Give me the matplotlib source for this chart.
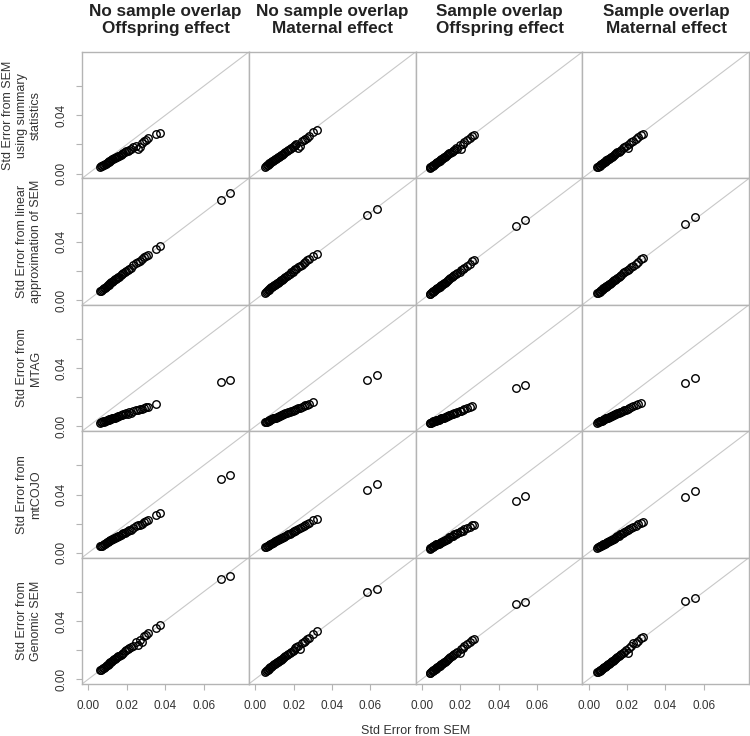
import numpy as np
import matplotlib
matplotlib.use('Agg')
import matplotlib.pyplot as plt

plt.rcParams['font.family'] = ['Liberation Sans', 'DejaVu Sans']

nan = np.nan

# 열 제목 / 행 라벨
col_titles = ['No sample overlap\nOffspring effect', 'No sample overlap\nMaternal effect',
              'Sample overlap\nOffspring effect', 'Sample overlap\nMaternal effect']
row_labels = ['Std Error from SEM\nusing summary\nstatistics',
              'Std Error from linear\napproximation of SEM',
              'Std Error from\nMTAG',
              'Std Error from\nmtCOJO',
              'Std Error from\nGenomic SEM']
tick_vals = [0.00, 0.02, 0.04, 0.06]
x_tick_labels = ['0.00', '0.02', '0.04', '0.06']
y_tick_labels = ['0.00', '', '0.04', '']

# x: Std Error from SEM (열마다)
x_col1 = [0.0060, 0.0065, 0.0070, 0.0075, 0.0080, 0.0085, 0.0090, 0.0095, 0.0100, 0.0105,
          0.0110, 0.0115, 0.0120, 0.0125, 0.0130, 0.0135, 0.0140, 0.0145, 0.0150, 0.0155,
          0.0160, 0.0168, 0.0175, 0.0183, 0.0190, 0.0198, 0.0205, 0.0213, 0.0220,
          0.0235, 0.0250, 0.0260, 0.0268, 0.0277, 0.0290, 0.0300, 0.0310, 0.0350, 0.0372,
          0.0692, 0.0738]
x_col2 = [0.0050, 0.0055, 0.0060, 0.0065, 0.0070, 0.0075, 0.0080, 0.0085, 0.0090, 0.0095,
          0.0100, 0.0105, 0.0110, 0.0115, 0.0120, 0.0125, 0.0130, 0.0135, 0.0140, 0.0145,
          0.0150, 0.0158, 0.0165, 0.0173, 0.0180, 0.0188, 0.0195, 0.0203, 0.0210,
          0.0213, 0.0225, 0.0234, 0.0245, 0.0255, 0.0262, 0.0268, 0.0280, 0.0303, 0.0320,
          0.0582, 0.0636]
x_col3 = [0.0040, 0.0044, 0.0048, 0.0052, 0.0056, 0.0060, 0.0064, 0.0068, 0.0072, 0.0076,
          0.0080, 0.0084, 0.0088, 0.0092, 0.0096, 0.0100, 0.0105, 0.0110, 0.0115, 0.0120,
          0.0125, 0.0130, 0.0136, 0.0142, 0.0148, 0.0155, 0.0162, 0.0170,
          0.0178, 0.0185, 0.0197, 0.0205, 0.0212, 0.0222, 0.0235, 0.0250, 0.0262, 0.0270,
          0.0490, 0.0538]
x_col4 = [0.0045, 0.0049, 0.0053, 0.0057, 0.0061, 0.0065, 0.0069, 0.0073, 0.0077, 0.0081,
          0.0085, 0.0089, 0.0093, 0.0097, 0.0101, 0.0106, 0.0111, 0.0116, 0.0121, 0.0126,
          0.0131, 0.0137, 0.0143, 0.0149, 0.0156, 0.0163, 0.0170, 0.0178,
          0.0186, 0.0195, 0.0205, 0.0212, 0.0222, 0.0231, 0.0245, 0.0258, 0.0274, 0.0282,
          0.0502, 0.0556]

# 1열
y_sumstat_c1 = [0.0046, 0.0050, 0.0054, 0.0057, 0.0062, 0.0065, 0.0069, 0.0073, 0.0077, 0.0081,
                0.0084, 0.0089, 0.0092, 0.0097, 0.0100, 0.0104, 0.0108, 0.0112, 0.0115, 0.0120,
                0.0123, 0.0130, 0.0134, 0.0141, 0.0146, 0.0153, 0.0157, 0.0165, 0.0170,
                0.0180, 0.0190, 0.0171, 0.0183, 0.0208, 0.0222, 0.0230, 0.0241, 0.0272, 0.0281,
                nan, nan]
y_linear_c1 = [0.0061, 0.0065, 0.0071, 0.0075, 0.0081, 0.0085, 0.0091, 0.0095, 0.0101, 0.0105,
               0.0111, 0.0115, 0.0121, 0.0125, 0.0131, 0.0135, 0.0141, 0.0146, 0.0151, 0.0155,
               0.0161, 0.0169, 0.0176, 0.0184, 0.0191, 0.0199, 0.0206, 0.0214, 0.0221,
               0.0238, 0.0252, 0.0258, 0.0270, 0.0282, 0.0293, 0.0302, 0.0312, 0.0348, 0.0370,
               0.0690, 0.0733]
y_mtag_c1 = [0.0026, 0.0031, 0.0029, 0.0035, 0.0033, 0.0039, 0.0038, 0.0043, 0.0042, 0.0048,
             0.0046, 0.0053, 0.0051, 0.0057, 0.0055, 0.0061, 0.0060, 0.0066, 0.0064, 0.0070,
             0.0068, 0.0076, 0.0075, 0.0083, 0.0082, 0.0089, 0.0088, 0.0096, 0.0095,
             0.0103, 0.0110, 0.0114, 0.0118, 0.0121, 0.0127, 0.0131, 0.0135, 0.0155, nan,
             0.0307, 0.0322]
y_mtcojo_c1 = [0.0044, 0.0049, 0.0050, 0.0056, 0.0057, 0.0063, 0.0064, 0.0071, 0.0071, 0.0078,
               0.0078, 0.0085, 0.0086, 0.0093, 0.0093, 0.0100, 0.0100, 0.0107, 0.0107, 0.0115,
               0.0115, 0.0124, 0.0126, 0.0135, 0.0137, 0.0146, 0.0148, 0.0157, 0.0159,
               0.0170, 0.0181, 0.0188, 0.0194, 0.0200, 0.0211, 0.0218, 0.0225, 0.0261, 0.0275,
               0.0508, 0.0536]
y_gsem_c1 = [0.0062, 0.0065, 0.0070, 0.0076, 0.0080, 0.0086, 0.0090, 0.0096, 0.0100, 0.0106,
             0.0110, 0.0116, 0.0120, 0.0126, 0.0130, 0.0136, 0.0140, 0.0146, 0.0150, 0.0156,
             0.0160, 0.0168, 0.0176, 0.0183, 0.0191, 0.0198, 0.0206, 0.0213, 0.0221,
             0.0230, 0.0252, 0.0234, 0.0270, 0.0257, 0.0295, 0.0305, 0.0318, 0.0352, 0.0375,
             0.0685, 0.0710]

# 2열
y_sumstat_c2 = [0.0047, 0.0051, 0.0056, 0.0060, 0.0065, 0.0070, 0.0074, 0.0079, 0.0084, 0.0088,
                0.0093, 0.0098, 0.0102, 0.0107, 0.0112, 0.0116, 0.0121, 0.0126, 0.0130, 0.0135,
                0.0140, 0.0147, 0.0153, 0.0161, 0.0167, 0.0175, 0.0181, 0.0189, 0.0195,
                0.0200, 0.0178, 0.0192, 0.0225, 0.0232, 0.0240, 0.0246, 0.0258, 0.0285, 0.0296,
                nan, nan]
y_linear_c2 = [0.0050, 0.0056, 0.0060, 0.0066, 0.0070, 0.0076, 0.0080, 0.0086, 0.0090, 0.0096,
               0.0100, 0.0106, 0.0110, 0.0116, 0.0120, 0.0126, 0.0130, 0.0136, 0.0140, 0.0146,
               0.0150, 0.0159, 0.0165, 0.0174, 0.0180, 0.0189, 0.0195, 0.0204, 0.0210,
               0.0215, 0.0228, 0.0236, 0.0243, 0.0257, 0.0260, 0.0272, 0.0281, 0.0300, 0.0318,
               0.0581, 0.0628]
y_mtag_c2 = [0.0028, 0.0032, 0.0033, 0.0037, 0.0038, 0.0043, 0.0044, 0.0049, 0.0049, 0.0055,
             0.0055, 0.0060, 0.0060, 0.0066, 0.0066, 0.0071, 0.0071, 0.0077, 0.0077, 0.0082,
             0.0082, 0.0089, 0.0091, 0.0097, 0.0099, 0.0105, 0.0107, 0.0114, 0.0116,
             0.0117, 0.0124, 0.0129, 0.0134, 0.0140, 0.0144, 0.0147, 0.0154, 0.0168, nan,
             0.0322, 0.0355]
y_mtcojo_c2 = [0.0037, 0.0041, 0.0044, 0.0048, 0.0051, 0.0056, 0.0058, 0.0063, 0.0066, 0.0070,
               0.0073, 0.0078, 0.0080, 0.0085, 0.0088, 0.0092, 0.0095, 0.0100, 0.0102, 0.0107,
               0.0110, 0.0116, 0.0120, 0.0127, 0.0131, 0.0138, 0.0142, 0.0149, 0.0153,
               0.0156, 0.0164, 0.0171, 0.0179, 0.0186, 0.0191, 0.0196, 0.0204, 0.0225, 0.0233,
               0.0433, 0.0469]
y_gsem_c2 = [0.0051, 0.0055, 0.0061, 0.0065, 0.0071, 0.0075, 0.0081, 0.0085, 0.0091, 0.0095,
             0.0101, 0.0105, 0.0111, 0.0115, 0.0121, 0.0125, 0.0131, 0.0135, 0.0141, 0.0145,
             0.0151, 0.0158, 0.0166, 0.0173, 0.0181, 0.0188, 0.0196, 0.0203, 0.0211,
             0.0218, 0.0228, 0.0206, 0.0248, 0.0252, 0.0265, 0.0276, 0.0285, 0.0310, 0.0330,
             0.0600, 0.0621]

# 3열
y_sumstat_c3 = [0.0039, 0.0043, 0.0047, 0.0050, 0.0054, 0.0058, 0.0062, 0.0066, 0.0070, 0.0074,
                0.0078, 0.0081, 0.0085, 0.0089, 0.0093, 0.0097, 0.0102, 0.0107, 0.0112, 0.0116,
                0.0121, 0.0126, 0.0132, 0.0138, 0.0144, 0.0150, 0.0157, 0.0165,
                0.0176, 0.0172, 0.0193, 0.0168, 0.0205, 0.0215, 0.0228, 0.0242, 0.0258, 0.0265,
                nan, nan]
y_linear_c3 = [0.0041, 0.0044, 0.0049, 0.0052, 0.0057, 0.0060, 0.0065, 0.0068, 0.0073, 0.0076,
               0.0081, 0.0084, 0.0089, 0.0092, 0.0097, 0.0100, 0.0106, 0.0110, 0.0116, 0.0120,
               0.0126, 0.0130, 0.0137, 0.0142, 0.0149, 0.0155, 0.0163, 0.0170,
               0.0180, 0.0186, 0.0195, 0.0207, 0.0213, 0.0221, 0.0236, 0.0248, 0.0265, 0.0275,
               0.0505, 0.0552]
y_mtag_c3 = [0.0021, 0.0025, 0.0025, 0.0030, 0.0030, 0.0034, 0.0034, 0.0038, 0.0038, 0.0042,
             0.0042, 0.0046, 0.0047, 0.0051, 0.0051, 0.0055, 0.0056, 0.0060, 0.0061, 0.0066,
             0.0066, 0.0071, 0.0072, 0.0077, 0.0078, 0.0084, 0.0086, 0.0091,
             0.0094, 0.0098, 0.0104, 0.0108, 0.0112, 0.0117, 0.0124, 0.0132, 0.0139, nan,
             0.0264, 0.0286]
y_mtcojo_c3 = [0.0029, 0.0033, 0.0034, 0.0039, 0.0040, 0.0045, 0.0046, 0.0051, 0.0052, 0.0057,
               0.0058, 0.0063, 0.0063, 0.0069, 0.0069, 0.0075, 0.0076, 0.0082, 0.0083, 0.0089,
               0.0090, 0.0097, 0.0098, 0.0106, 0.0107, 0.0116, 0.0117, 0.0127,
               0.0128, 0.0133, 0.0142, 0.0148, 0.0153, 0.0160, 0.0169, 0.0180, 0.0189, 0.0194,
               0.0358, 0.0391]
y_gsem_c3 = [0.0041, 0.0045, 0.0049, 0.0053, 0.0057, 0.0061, 0.0065, 0.0069, 0.0073, 0.0077,
             0.0081, 0.0085, 0.0089, 0.0093, 0.0097, 0.0101, 0.0106, 0.0111, 0.0116, 0.0121,
             0.0126, 0.0131, 0.0137, 0.0143, 0.0149, 0.0156, 0.0163, 0.0171,
             0.0180, 0.0188, 0.0178, 0.0208, 0.0215, 0.0226, 0.0240, 0.0255, 0.0268, 0.0276,
             0.0513, 0.0532]

# 4열
y_sumstat_c4 = [0.0044, 0.0048, 0.0051, 0.0055, 0.0059, 0.0063, 0.0067, 0.0071, 0.0075, 0.0079,
                0.0082, 0.0086, 0.0090, 0.0094, 0.0098, 0.0103, 0.0108, 0.0112, 0.0117, 0.0122,
                0.0127, 0.0133, 0.0139, 0.0145, 0.0151, 0.0158, 0.0165, 0.0173,
                0.0181, 0.0190, 0.0178, 0.0206, 0.0214, 0.0225, 0.0238, 0.0250, 0.0266, 0.0273,
                nan, nan]
y_linear_c4 = [0.0046, 0.0050, 0.0054, 0.0058, 0.0062, 0.0066, 0.0070, 0.0074, 0.0079, 0.0083,
               0.0087, 0.0091, 0.0095, 0.0099, 0.0103, 0.0108, 0.0113, 0.0118, 0.0123, 0.0129,
               0.0134, 0.0140, 0.0146, 0.0152, 0.0159, 0.0166, 0.0173, 0.0182,
               0.0190, 0.0199, 0.0208, 0.0216, 0.0226, 0.0236, 0.0250, 0.0262, 0.0280, 0.0288,
               0.0525, 0.0568]
y_mtag_c4 = [0.0025, 0.0030, 0.0030, 0.0035, 0.0035, 0.0040, 0.0040, 0.0045, 0.0045, 0.0050,
             0.0050, 0.0055, 0.0055, 0.0060, 0.0059, 0.0065, 0.0065, 0.0071, 0.0071, 0.0077,
             0.0077, 0.0083, 0.0084, 0.0090, 0.0092, 0.0099, 0.0100, 0.0108,
             0.0110, 0.0116, 0.0122, 0.0126, 0.0132, 0.0137, 0.0146, 0.0152, 0.0161, nan,
             0.0300, 0.0333]
y_mtcojo_c4 = [0.0033, 0.0038, 0.0039, 0.0044, 0.0045, 0.0050, 0.0051, 0.0056, 0.0057, 0.0062,
               0.0063, 0.0068, 0.0069, 0.0074, 0.0075, 0.0081, 0.0083, 0.0089, 0.0090, 0.0097,
               0.0098, 0.0105, 0.0107, 0.0115, 0.0117, 0.0126, 0.0128, 0.0137,
               0.0141, 0.0148, 0.0156, 0.0161, 0.0169, 0.0176, 0.0186, 0.0196, 0.0208, 0.0212,
               0.0383, 0.0425]
y_gsem_c4 = [0.0046, 0.0050, 0.0054, 0.0058, 0.0062, 0.0066, 0.0070, 0.0074, 0.0078, 0.0082,
             0.0086, 0.0090, 0.0094, 0.0098, 0.0102, 0.0107, 0.0112, 0.0117, 0.0122, 0.0127,
             0.0132, 0.0138, 0.0144, 0.0150, 0.0157, 0.0164, 0.0171, 0.0179,
             0.0190, 0.0200, 0.0182, 0.0216, 0.0226, 0.0247, 0.0250, 0.0265, 0.0283, 0.0290,
             0.0539, 0.0556]

x_cols = [x_col1, x_col2, x_col3, x_col4]
y_rows = [
    [y_sumstat_c1, y_sumstat_c2, y_sumstat_c3, y_sumstat_c4],
    [y_linear_c1, y_linear_c2, y_linear_c3, y_linear_c4],
    [y_mtag_c1, y_mtag_c2, y_mtag_c3, y_mtag_c4],
    [y_mtcojo_c1, y_mtcojo_c2, y_mtcojo_c3, y_mtcojo_c4],
    [y_gsem_c1, y_gsem_c2, y_gsem_c3, y_gsem_c4],
]

lim = (-0.0033, 0.0835)
frame_col = '#B4B4B4'
text_col = '#333333'

fig, axes = plt.subplots(5, 4, figsize=(7.5, 7.36), dpi=100)
fig.subplots_adjust(left=82/750, right=749/750, top=1-52/736, bottom=1-684/736,
                    wspace=0, hspace=0)

for r in range(5):
    for c in range(4):
        ax = axes[r, c]
        ax.plot(lim, lim, color='#C8C8C8', lw=0.8, zorder=1)
        ax.plot(x_cols[c], y_rows[r][c], linestyle='none', marker='o', ms=5.4,
                mfc='none', mec='black', mew=1.0, zorder=2)
        ax.set_xlim(lim)
        ax.set_ylim(lim)
        for s in ax.spines.values():
            s.set_color(frame_col)
            s.set_linewidth(1.0)
        ax.tick_params(length=4.5, width=0.8, color=frame_col, labelsize=8.5,
                       labelcolor=text_col)
        ax.set_xticks(tick_vals)
        ax.set_yticks(tick_vals)
        if r == 4:
            ax.set_xticklabels(x_tick_labels)
            ax.tick_params(axis='x', pad=7)
        else:
            ax.tick_params(axis='x', bottom=False, labelbottom=False)
        if c == 0:
            ax.set_yticklabels(y_tick_labels, rotation=90, va='center')
            ax.tick_params(axis='y', pad=6)
        else:
            ax.tick_params(axis='y', left=False, labelleft=False)

# 열 제목
for c in range(4):
    xc = (82 + 167 * c + 83.5) / 750
    fig.text(xc, 1 - 20/736, col_titles[c], ha='center', va='center',
             fontsize=12.3, fontweight='bold', color='#222222', linespacing=1.15)

# 행 라벨
for r in range(5):
    yc = 1 - (52 + 126.4 * r + 63.2) / 736
    fig.text(42/750, yc, row_labels[r], rotation=90, ha='right', va='center',
             multialignment='center', fontsize=9, color=text_col, linespacing=1.2)

fig.text(416/750, 1 - 731/736, 'Std Error from SEM', ha='center', va='center',
         fontsize=9, color=text_col)

plt.savefig('out.png', dpi=100)
